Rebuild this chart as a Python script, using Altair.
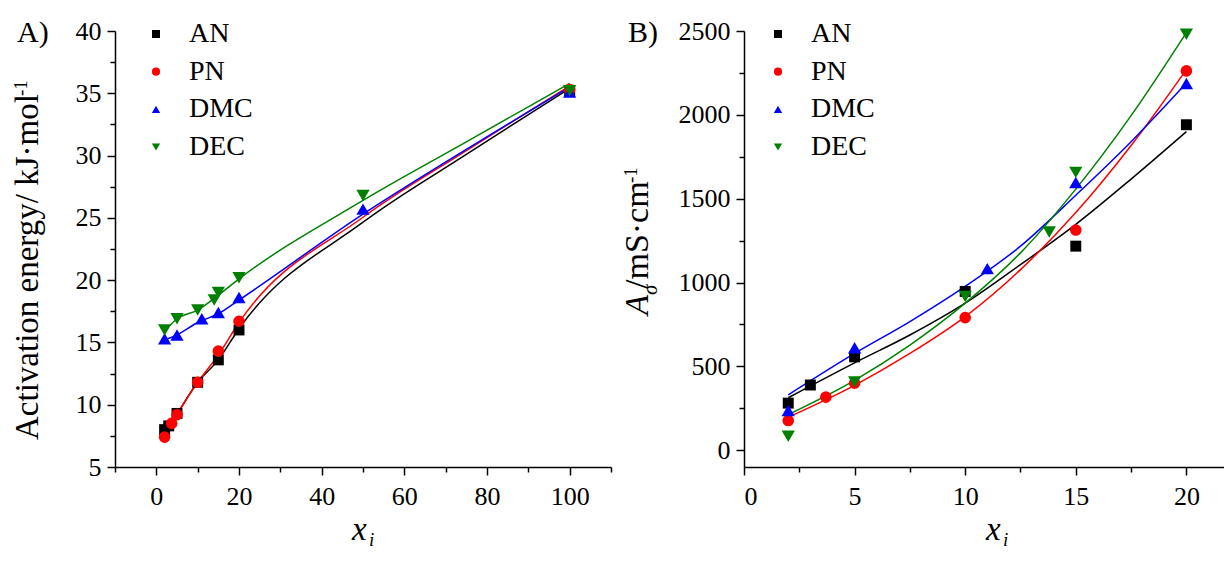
import altair as alt
import pandas as pd

FONT = "Liberation Serif"
SERIES = ["AN", "PN", "DMC", "DEC"]
COLORS = ["#000000", "#ff0000", "#0000ff", "#008000"]
SHAPES = ["square", "circle", "triangle-up", "triangle-down"]
MARKER_SIZES = [120, 135, 175, 175]
LEGEND_SIZES = [64, 70, 85, 85]

# ---------------- Panel A: activation energy / kJ mol-1 vs x_i ----------------
ea_an_x = [2, 3, 5, 10, 15, 20, 100]
ea_an_y = [8.0, 8.3, 9.3, 11.8, 13.6, 16.0, 35.2]
ea_pn_x = [2, 3.7, 5, 10, 15, 20, 100]
ea_pn_y = [7.4, 8.5, 9.2, 11.8, 14.3, 16.7, 35.3]
ea_dmc_x = [2, 5, 11, 15, 20, 50, 100]
ea_dmc_y = [15.3, 15.6, 16.9, 17.4, 18.6, 25.7, 35.1]
ea_dec_x = [2, 5, 10, 14, 15, 20, 50, 100]
ea_dec_y = [16.0, 16.9, 17.6, 18.4, 19.0, 20.2, 26.8, 35.2]

# fitted curves
ea_fit_x = [2, 5, 10, 15, 20, 50, 75, 100]
ea_fit_an = [7.8, 9.25, 11.8, 13.6, 16.1, 24.65, 30.1, 35.4]
ea_fit_pn = [7.55, 9.25, 11.8, 14.0, 16.6, 25.05, 30.4, 35.6]
ea_fit_dmc = [15.2, 15.6, 16.6, 17.3, 18.4, 25.3, 30.5, 35.5]
ea_fit_dec = [15.9, 16.9, 17.6, 18.8, 20.1, 26.4, 31.1, 35.8]

# ---------------- Panel B: A_sigma / mS cm-1 vs x_i ----------------
a_an_x = [2, 3, 5, 10, 15, 20]
a_an_y = [281, 389, 557, 947, 1217, 1941]
a_pn_x = [2, 3.7, 5, 10, 15, 20]
a_pn_y = [177, 317, 400, 791, 1313, 2262]
a_dmc_x = [2, 5, 11, 15, 20]
a_dmc_y = [237, 611, 1083, 1597, 2187]
a_dec_x = [2, 5, 10, 13.8, 15, 20]
a_dec_y = [83, 407, 917, 1301, 1657, 2481]

a_fit_x = [2, 5, 7.5, 10, 12.5, 15, 17.5, 20]
a_fit_an = [313, 521, 687, 877, 1107, 1347, 1617, 1900]
a_fit_pn = [197, 387, 577, 797, 1077, 1417, 1817, 2270]
a_fit_dmc = [330, 577, 767, 977, 1217, 1521, 1840, 2190]
a_fit_dec = [213, 417, 627, 877, 1177, 1557, 1995, 2490]


def long_fits(xs, fits):
    rows = []
    for s, ys in zip(SERIES, fits):
        for x, y in zip(xs, ys):
            rows.append({"curve": s, "x": x, "y": y})
    return pd.DataFrame(rows)


ea_pairs = [(ea_an_x, ea_an_y), (ea_pn_x, ea_pn_y), (ea_dmc_x, ea_dmc_y), (ea_dec_x, ea_dec_y)]
a_pairs = [(a_an_x, a_an_y), (a_pn_x, a_pn_y), (a_dmc_x, a_dmc_y), (a_dec_x, a_dec_y)]
ea_fit = long_fits(ea_fit_x, [ea_fit_an, ea_fit_pn, ea_fit_dmc, ea_fit_dec])
a_fit = long_fits(a_fit_x, [a_fit_an, a_fit_pn, a_fit_dmc, a_fit_dec])


def label(t, x, y, size, italic=False, angle=0):
    return alt.Chart(pd.DataFrame({"t": [t]})).mark_text(
        align="left", baseline="alphabetic", font=FONT, fontSize=size,
        fontStyle="italic" if italic else "normal", angle=angle, color="black",
    ).encode(x=alt.value(x), y=alt.value(y), text="t:N")


def make_axis(values, major, orient):
    pad = 8 if orient == "bottom" else 6
    return alt.Axis(
        values=values,
        labelExpr=f"datum.value % {major} === 0 ? datum.label : ''",
        format="d",
        tickSize={"condition": {"test": f"datum.value % {major} === 0", "value": 8}, "value": 5},
        labelPadding=pad,
        title=None,
        grid=False,
    )


def legend_layer(sym_x, text_x):
    df = pd.DataFrame({"s": SERIES, "sz": SERIES})
    ly = alt.Y("s:N", scale=alt.Scale(type="point", domain=SERIES, range=[3, 116], padding=0),
               axis=None)
    sym = alt.Chart(df).mark_point(filled=True, opacity=1, strokeWidth=0).encode(
        x=alt.value(sym_x), y=ly,
        color=alt.Color("s:N", scale=alt.Scale(domain=SERIES, range=COLORS), legend=None),
        shape=alt.Shape("s:N", scale=alt.Scale(domain=SERIES, range=SHAPES), legend=None),
        size=alt.Size("sz:N", scale=alt.Scale(domain=SERIES, range=LEGEND_SIZES), legend=None),
    )
    txt = alt.Chart(df).mark_text(
        align="left", baseline="middle", font=FONT, fontSize=28, color="black"
    ).encode(x=alt.value(text_x), y=ly, text="s:N")
    return alt.layer(sym, txt)


def panel(pairs, fit, xdom, ydom, xvals, xmaj, yvals, ymaj, sym_x, text_x, texts, W, H):
    x_enc = alt.X("x:Q", scale=alt.Scale(domain=xdom, nice=False, zero=False),
                  axis=make_axis(xvals, xmaj, "bottom"))
    y_enc = alt.Y("y:Q", scale=alt.Scale(domain=ydom, nice=False, zero=False),
                  axis=make_axis(yvals, ymaj, "left"))
    lines = alt.Chart(fit).mark_line(strokeWidth=1.5, interpolate="monotone").encode(
        x=x_enc, y=y_enc,
        stroke=alt.Stroke("curve:N", scale=alt.Scale(domain=SERIES, range=COLORS), legend=None),
    )
    pts = []
    for (xs, ys), col, shp, sz in zip(pairs, COLORS, SHAPES, MARKER_SIZES):
        df = pd.DataFrame({"x": xs, "y": ys})
        pts.append(
            alt.Chart(df).mark_point(filled=True, opacity=1, strokeWidth=0,
                                     shape=shp, size=sz, color=col)
            .encode(x=x_enc, y=y_enc)
        )
    main = alt.layer(lines, *pts, *texts)
    return alt.layer(main, legend_layer(sym_x, text_x)).resolve_scale(
        y="independent", color="independent", shape="independent", size="independent"
    ).properties(width=W, height=H)


H = 436
left_texts = [
    label("A)", -98, 11, 30),
    label("Activation energy/ kJ\u00b7mol", -77, 409, 33, angle=270),
    label("-1", -88, 65, 19, angle=270),
    label("x", 237, 509, 33, italic=True),
    label("i", 254, 515, 19, italic=True),
]
right_texts = [
    label("B)", -116, 11, 30),
    label("A", -96, 284, 33, italic=True, angle=270),
    label("\u03c3", -87, 264, 21, italic=True, angle=270),
    label("/mS\u00b7cm", -96, 258, 34, angle=270),
    label("-1", -107, 152, 19, angle=270),
    label("x", 242, 509, 33, italic=True),
    label("i", 259, 515, 19, italic=True),
]

left = panel(ea_pairs, ea_fit, [-10, 110], [5, 40], list(range(-10, 111, 10)), 20,
             [5 + 2.5 * k for k in range(15)], 5, 41, 74, left_texts, 496, H)
right = panel(a_pairs, a_fit, [0, 21.7], [-100, 2500], [2.5 * k for k in range(9)], 5,
              [250 * k for k in range(11)], 500, 34, 67, right_texts, 480, H)

chart = alt.hconcat(left, right, spacing=9).properties(
    padding={"left": 3, "top": 10, "right": 0, "bottom": 0}
).configure_view(stroke=None).configure_axis(
    domainColor="black", domainWidth=1.5, tickColor="black", tickWidth=1.5,
    labelFont=FONT, labelFontSize=26, labelColor="black",
)

chart.save("out.html", embed_options={"renderer": "svg", "actions": False})
